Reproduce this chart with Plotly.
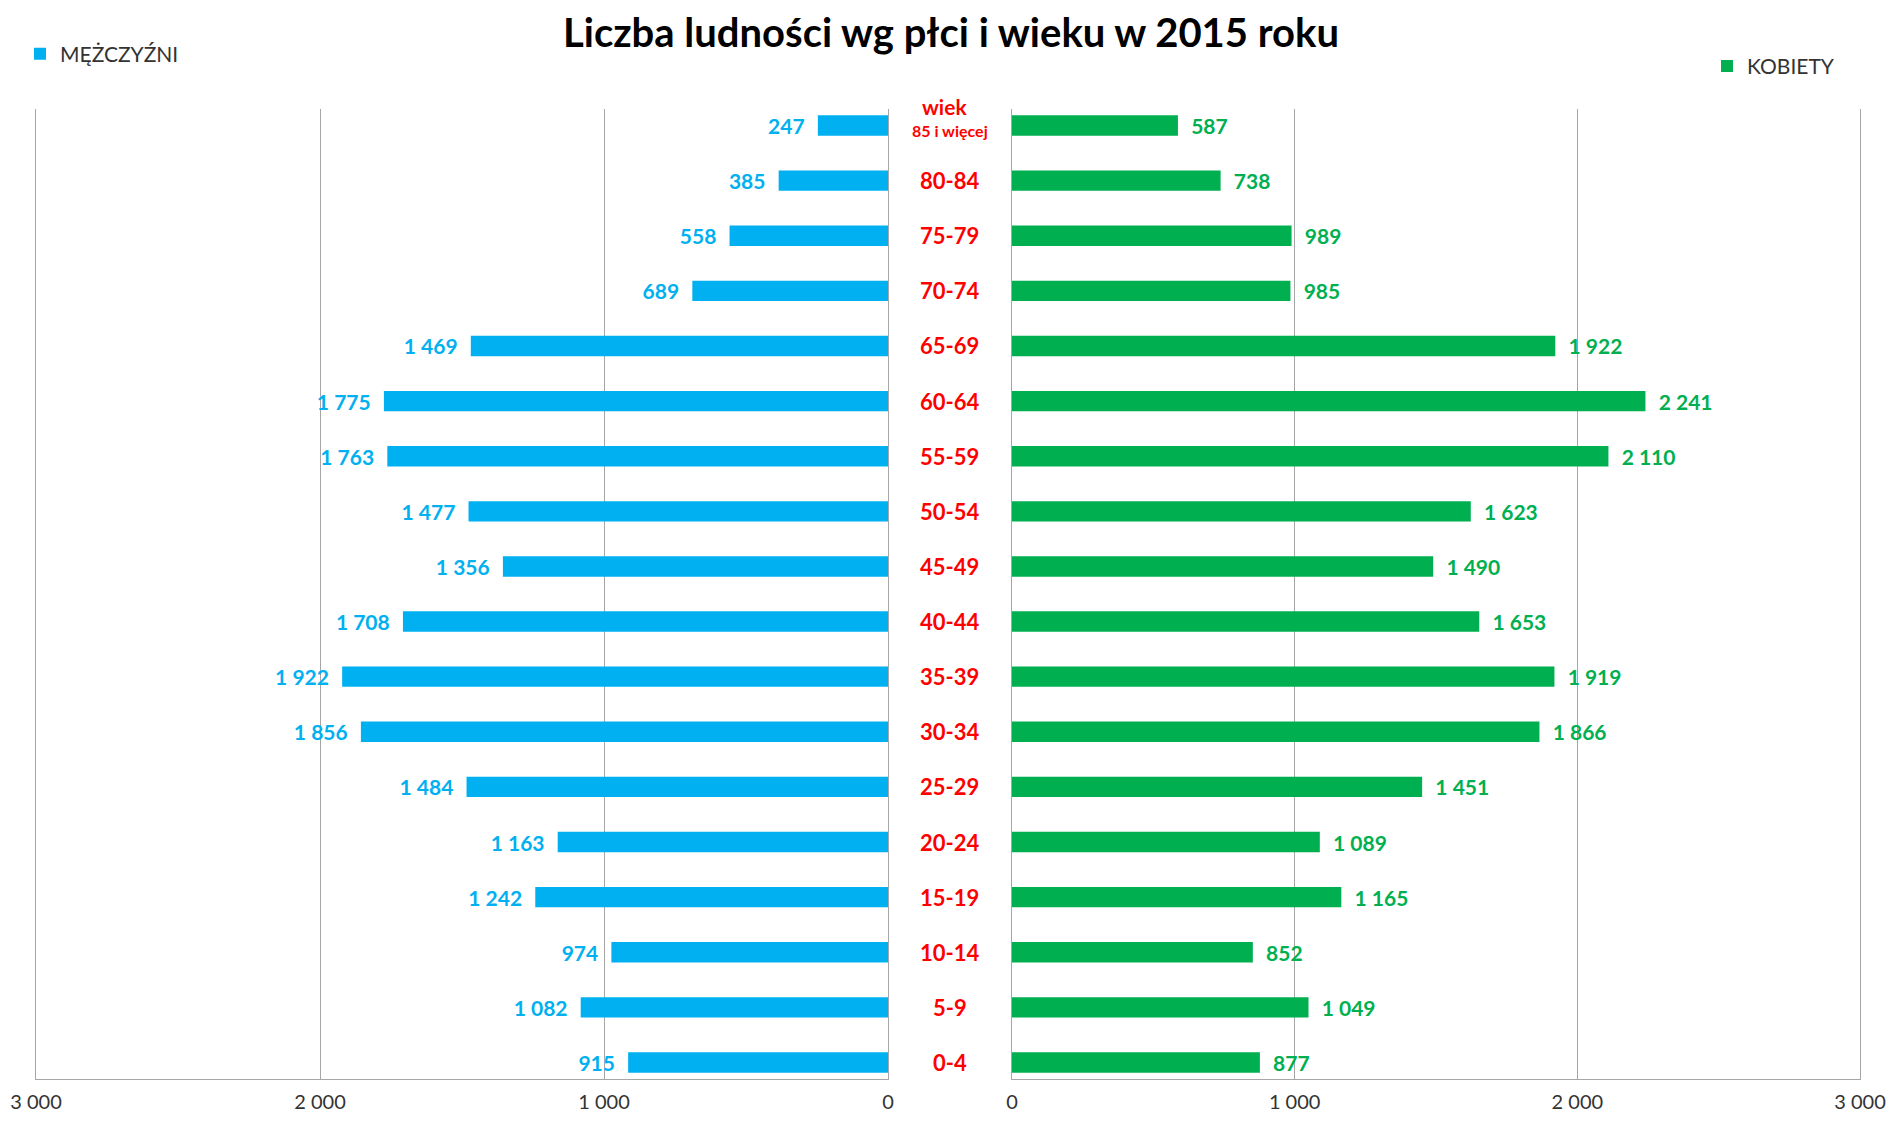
"""Population pyramid: Liczba ludności wg płci i wieku w 2015 roku."""
import plotly.graph_objects as go

# age groups, bottom to top
ages = ["0-4", "5-9", "10-14", "15-19", "20-24", "25-29", "30-34", "35-39", "40-44",
        "45-49", "50-54", "55-59", "60-64", "65-69", "70-74", "75-79", "80-84", "85 i więcej"]
men = [915, 1082, 974, 1242, 1163, 1484, 1856, 1922, 1708,
       1356, 1477, 1763, 1775, 1469, 689, 558, 385, 247]
women = [877, 1049, 852, 1165, 1089, 1451, 1866, 1919, 1653,
         1490, 1623, 2110, 2241, 1922, 985, 989, 738, 587]
tick_vals = [0, 1000, 2000, 3000]
tick_text = ["0", "1 000", "2 000", "3 000"]

BLUE = "#00B0F0"
GREEN = "#00B050"
RED = "#FF0000"
GRID = "#A6A6A6"
FONT = "Lato, 'Open Sans', sans-serif"
# page body has an 8px margin, so keep the figure inside the window
W, H = 1878, 1107

fig = go.Figure()
fig.add_trace(go.Bar(
    y=ages, x=men, orientation="h", name="MĘŻCZYŹNI", showlegend=True,
    marker=dict(color=BLUE, line=dict(width=0)),
    texttemplate="%{x:,}\u00a0\u00a0", textposition="outside", cliponaxis=False,
    constraintext="none",
    textfont=dict(color=BLUE, size=21, family=FONT, weight="bold"),
    xaxis="x", yaxis="y", legend="legend",
))
fig.add_trace(go.Bar(
    y=ages, x=women, orientation="h", name="KOBIETY", showlegend=True,
    marker=dict(color=GREEN, line=dict(width=0)),
    texttemplate="\u00a0\u00a0%{x:,}", textposition="outside", cliponaxis=False,
    constraintext="none",
    textfont=dict(color=GREEN, size=21, family=FONT, weight="bold"),
    xaxis="x2", yaxis="y2", legend="legend2",
))

axis_common = dict(
    tickvals=tick_vals, ticktext=tick_text, showgrid=True, automargin=False,
    gridcolor=GRID, gridwidth=1, zeroline=False, showline=True, linecolor=GRID,
    ticks="", ticklabelstandoff=5, ticklabeloverflow="allow",
    tickfont=dict(size=20, color="#333333", family=FONT),
)
y_common = dict(range=[-0.3, 17.3], showticklabels=False, showgrid=False,
                zeroline=False, showline=True, mirror=True, linecolor=GRID,
                ticks="", automargin=False)

legend_style = dict(xanchor="left", yanchor="middle", bgcolor="rgba(0,0,0,0)",
                    font=dict(size=21, color="#333333", family=FONT), itemwidth=30)

fig.update_layout(
    width=W, height=H,
    paper_bgcolor="white", plot_bgcolor="white",
    margin=dict(l=0, r=0, t=101, b=36, pad=0, autoexpand=False),
    separators=", ",
    bargap=0.63,
    showlegend=True,
    font=dict(family=FONT, color="#333333"),
    title=dict(text="<b>Liczba ludności wg płci i wieku w 2015 roku</b>",
               x=943 / W, xanchor="center", y=1 - 25 / H, yanchor="middle",
               font=dict(size=40, color="#000000", family=FONT)),
    xaxis=dict(domain=[28 / W, 880 / W], range=[3000, 0], **axis_common),
    xaxis2=dict(domain=[1004 / W, 1852 / W], range=[0, 3000], **axis_common),
    yaxis=dict(anchor="x", **y_common),
    yaxis2=dict(anchor="x2", matches="y", **y_common),
    legend=dict(x=12 / W, y=1.0567, **legend_style),
    legend2=dict(x=1699 / W, y=1.044, **legend_style),
)

# age labels in the centre column
for age in ages:
    if age == "85 i więcej":
        fig.add_annotation(x=942 / W, xref="paper", y=age, yref="y", text="<b>85 i więcej</b>",
                           showarrow=False, yshift=-5,
                           font=dict(size=16, color=RED, family=FONT))
        fig.add_annotation(x=936 / W, xref="paper", y=age, yref="y", text="<b>wiek</b>",
                           showarrow=False, yshift=19,
                           font=dict(size=21, color=RED, family=FONT))
    else:
        fig.add_annotation(x=942 / W, xref="paper", y=age, yref="y", text="<b>" + age + "</b>",
                           showarrow=False, font=dict(size=22, color=RED, family=FONT))

fig.write_html("out.html")
